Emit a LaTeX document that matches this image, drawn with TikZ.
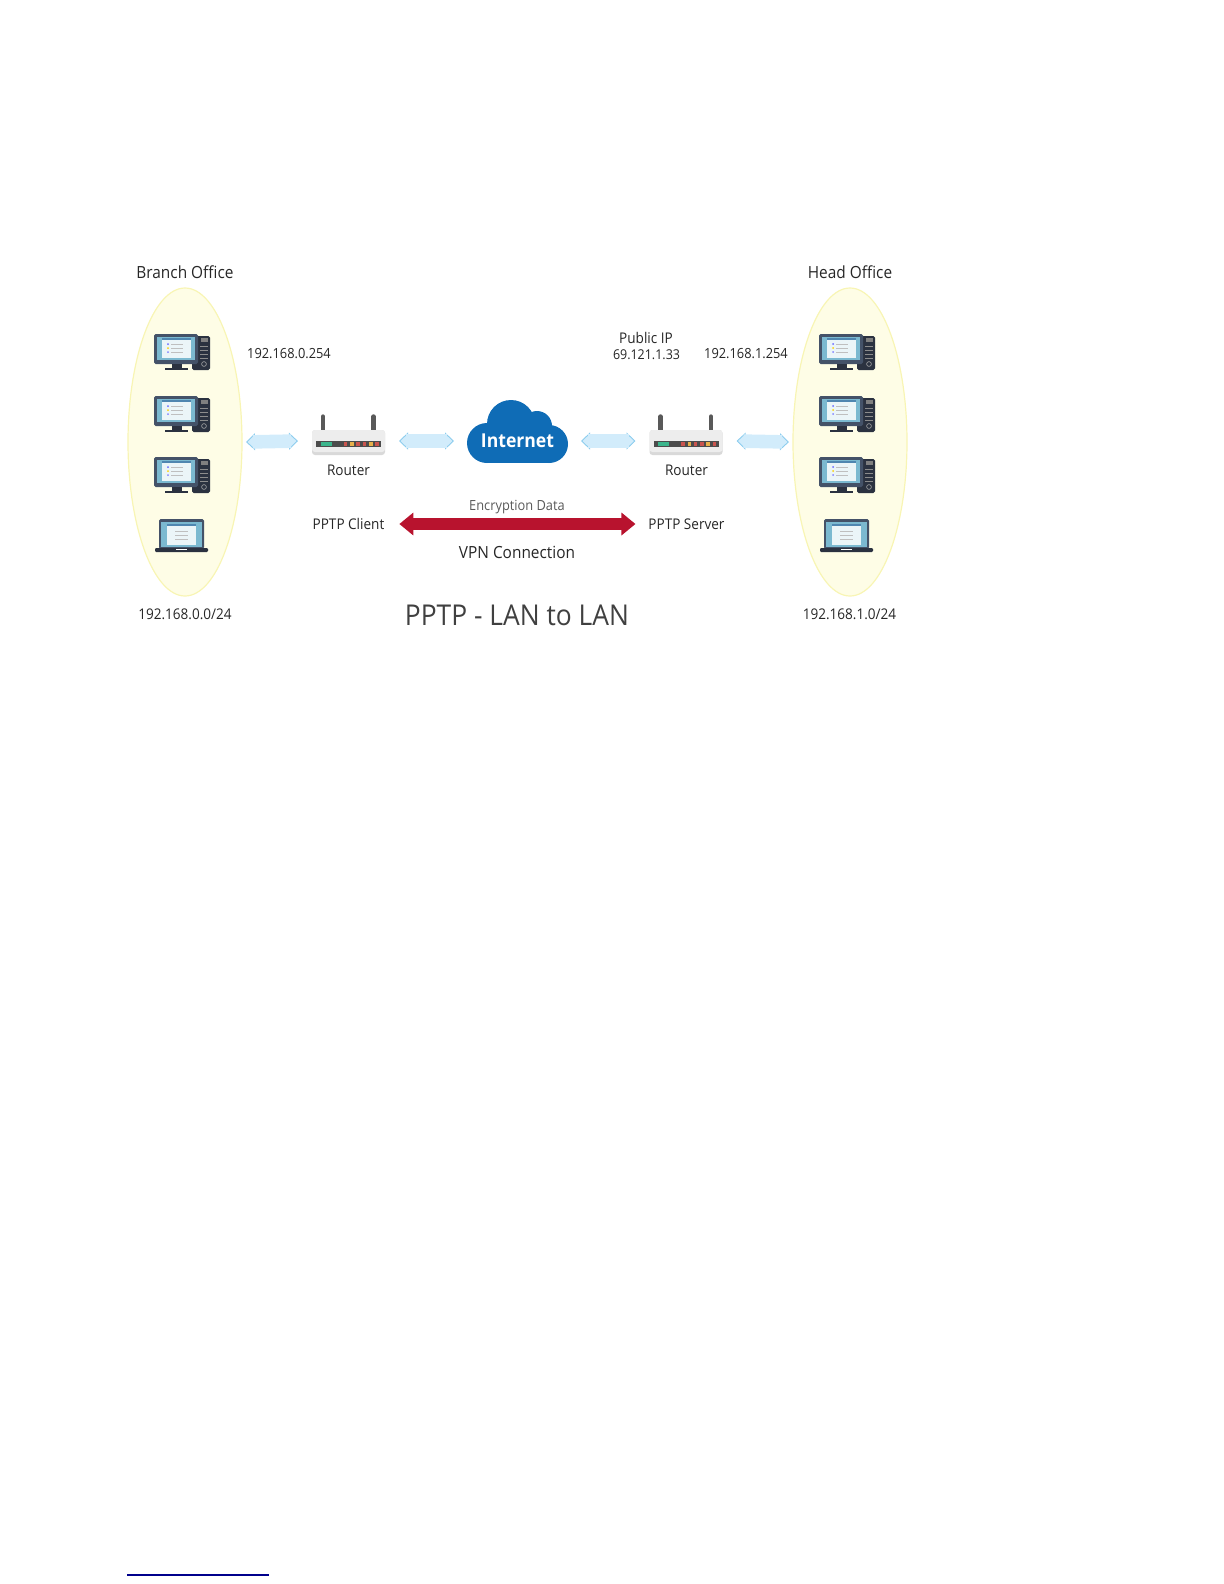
\documentclass[tikz,border=0pt]{standalone}
\usepackage{fontspec}
\setmainfont[FakeStretch=0.92]{Open Sans}
\usetikzlibrary{arrows.meta,shapes.geometric}

\definecolor{zoneyellow}{HTML}{FEFDE6}
\definecolor{zoneedge}{HTML}{F8F5B4}
\definecolor{linkfill}{HTML}{D2ECFB}
\definecolor{linkedge}{HTML}{8CCDEE}
\definecolor{vpnred}{HTML}{B8132E}
\definecolor{cloudblue}{HTML}{0F6CB6}
\definecolor{pcframe}{HTML}{445268}
\definecolor{pctower}{HTML}{2B3240}
\definecolor{pcscreen}{HTML}{7BB9D0}
\definecolor{panelbar}{HTML}{4F86B0}
\definecolor{ledred}{HTML}{C9544E}
\definecolor{ledamber}{HTML}{E8B04A}
\definecolor{ledgreen}{HTML}{3BB58C}

\tikzset{
  lbl/.style={font=\fontsize{7.4}{9}\selectfont, text=black!85, inner sep=0pt},
  addr/.style={lbl, font=\fontsize{7}{9}\selectfont},
  zone/.style={ellipse, fill=zoneyellow, draw=zoneedge, line width=0.6pt, inner sep=0pt,
    minimum width=57bp, minimum height=154bp, outer sep=2bp},
  box/.style={minimum width=36.5bp, minimum height=10bp, inner sep=0pt, outer sep=7bp},
  link/.style={draw=linkedge, line width=0.45pt, double=linkfill, double distance=3.4bp,
    {Triangle[open,fill=linkfill,length=4.5bp,width=8.5bp]}-{Triangle[open,fill=linkfill,length=4.5bp,width=8.5bp]},
    postaction={draw=linkfill, line width=3.4bp, double=none, double distance=0pt, -, shorten <=3.5bp, shorten >=3.5bp}},
  vpn/.style={draw=vpnred, line width=6bp, {Triangle[length=7bp,width=11bp]}-{Triangle[length=7bp,width=11bp]}},
  pcicon/.pic={
    \fill[pctower, rounded corners=0.8bp] (38,2) rectangle (56,36);
    \fill[black!50] (47,4) rectangle (54,8);
    \foreach \ty in {12,16,20,24} \draw[black!45, line width=0.25bp] (46,\ty) -- (54,\ty);
    \draw[black!35, line width=0.3bp] (50,30) circle (1.2bp);
    \fill[pcframe, rounded corners=0.8bp] (0,0) rectangle (44,30);
    \fill[pcscreen] (3,3) rectangle (41,26);
    \fill[white!85!pcscreen] (8,4) rectangle (37,24);
    \fill[panelbar] (8,4) rectangle (37,6);
    \foreach \ty/\tc in {10/blue!60, 14/yellow!70!orange, 18/blue!50} {
      \fill[\tc] (14,\ty) circle (0.5bp);
      \draw[black!25, line width=0.25bp] (17,\ty) -- (29,\ty);
    }
    \fill[pctower] (18,30) rectangle (28,34);
    \fill[pctower] (11,34) rectangle (34,36);
  },
  laptopicon/.pic={
    \fill[pcframe, rounded corners=0.8bp] (4,0) rectangle (49,30);
    \fill[pcscreen] (6,3) rectangle (47,28);
    \fill[white!85!pcscreen] (12,5) rectangle (41,26);
    \fill[panelbar] (12,5) rectangle (41,7);
    \foreach \ty in {12,16,20} \draw[black!25, line width=0.25bp] (20,\ty) -- (33,\ty);
    \fill[pctower, rounded corners=0.6bp] (0,29) rectangle (53,33);
    \fill[white!60] (21,29.5) rectangle (32,30.5);
  },
  routericon/.pic={
    \draw[black!65, line width=2.2bp, line cap=round] (-25.5,-26) -- (-25.5,-13);
    \draw[black!65, line width=2.2bp, line cap=round] (25,-26) -- (25,-13);
    \fill[black!15, rounded corners=1.5bp] (-36.5,-12.5) rectangle (36.5,12.5);
    \fill[black!7, rounded corners=1.5bp] (-36.5,-12.5) rectangle (36.5,9.5);
    \fill[black!70] (-32.5,-1.5) rectangle (32.5,4.5);
    \fill[ledgreen] (-28,-0.2) rectangle (-17,3.2);
    \foreach \lx/\lc in {-3/ledred, 3.3/ledamber, 9.6/ledred, 15.9/ledred, 22.2/ledamber, 28.5/ledred}
      \fill[\lc] (\lx-1.8,-0.2) rectangle (\lx+1.8,3.2);
  },
}

\begin{document}
\begin{tikzpicture}[x=0.5bp,y=-0.5bp]
  \useasboundingbox (0,0) rectangle (1224,1584);

  % office ellipses
  \node[zone] (branch) at (185,442) {};
  \node[zone] (head) at (850,442) {};
  \node[lbl, font=\fontsize{8.4}{10}\selectfont] (branchname) at (185,272.5) {Branch Office};
  \node[lbl, font=\fontsize{8.4}{10}\selectfont] (headname) at (850,272.5) {Head Office};
  \node[lbl] (branchnet) at (185,614) {192.168.0.0/24};
  \node[lbl] (headnet) at (849.5,614) {192.168.1.0/24};

  % computers
  \foreach \px in {154,819} {
    \foreach \py in {334,396,457}
      \pic at (\px,\py) {pcicon};
    \pic at (\px+1,519) {laptopicon};
  }

  % routers
  \pic at (348.5,442.5) {routericon};
  \pic at (686,442.5) {routericon};
  \node[box] (routerl) at (348.5,441) {};
  \node[box] (routerr) at (686,441) {};
  \node[lbl] (routerlname) at (348.5,470.5) {Router};
  \node[lbl] (routerrname) at (686.5,470.5) {Router};

  % cloud
  \fill[cloudblue] (487,443) circle (10bp);
  \fill[cloudblue] (511,424) circle (12bp);
  \fill[cloudblue] (537,426) circle (7.5bp);
  \fill[cloudblue] (549,444) circle (9.5bp);
  \fill[cloudblue] (487,425) rectangle (549,463);
  \node[font=\fontsize{9.6}{11}\selectfont\bfseries, text=white, inner sep=0pt,
    minimum width=50.5bp, minimum height=10bp, outer sep=6.5bp] (inet) at (517.5,441) {Internet};

  % addresses
  \node[addr] (gatewayl) at (289,353.5) {192.168.0.254};
  \node[lbl] (publicip) at (646,338) {Public IP};
  \node[addr, font=\fontsize{6.8}{9}\selectfont] (publicaddr) at (646.5,354.5) {69.121.1.33};
  \node[addr] (gatewayr) at (746,353.5) {192.168.1.254};

  % links
  \draw[link] (branch.east) -- (routerl.west);
  \draw[link] (routerl.east) -- (inet.west);
  \draw[link] (inet.east) -- (routerr.west);
  \draw[link] (routerr.east) -- (head.west);

  % VPN
  \node[lbl, outer sep=7.5bp] (client) at (348.5,524) {PPTP Client};
  \node[lbl, outer sep=6.5bp] (server) at (686.5,524) {PPTP Server};
  \draw[vpn] (client.east) -- (server.west);
  \node[lbl, font=\fontsize{7}{9}\selectfont, text=black!65] (encrypt) at (517,507.5) {Encryption Data};
  \node[lbl, font=\fontsize{8.4}{10}\selectfont] (vpnname) at (517,552) {VPN Connection};
  \node[lbl, font=\fontsize{14.4}{17}\selectfont, text=black!75] (title) at (517,615) {PPTP - LAN to LAN};

  % footnote rule
  \draw[blue!55!black, line width=0.9pt] (127,1575) -- (269,1575);
\end{tikzpicture}
\end{document}
